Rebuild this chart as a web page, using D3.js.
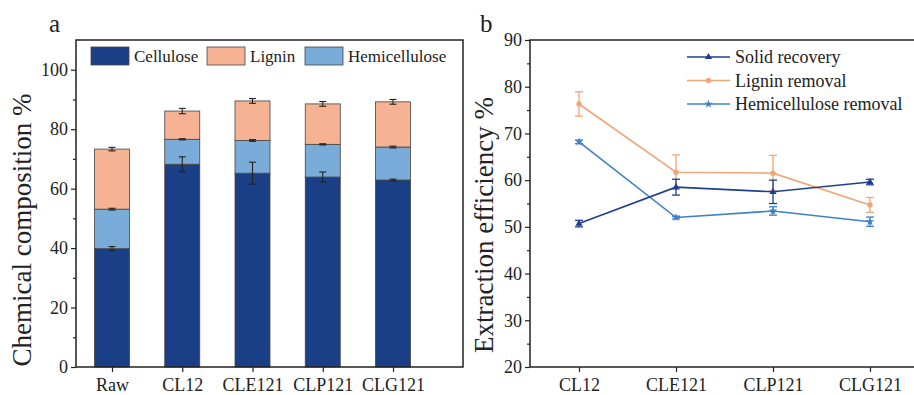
<!DOCTYPE html>
<html>
<head>
<meta charset="utf-8">
<script src="https://cdn.jsdelivr.net/npm/d3@7"></script>
<style>
  body { margin: 0; background: #fff; }
</style>
</head>
<body>
<div id="chart"></div>
<script>
// ---- panel a data: stacked composition (%) ----
const samplesA = ["Raw", "CL12", "CLE121", "CLP121", "CLG121"];
const cellulose = [39.8, 68.2, 65.2, 63.9, 62.9];
const hemicellulose = [13.3, 8.4, 11.0, 11.0, 11.1];
const lignin = [20.2, 9.5, 13.3, 13.6, 15.2];
const celluloseErr = [0.7, 2.5, 3.7, 1.7, 0.3];
const hemicelluloseErr = [0.3, 0.2, 0.3, 0.2, 0.3];
const ligninErr = [0.6, 0.9, 0.8, 0.8, 0.8];

// ---- panel b data: extraction efficiency (%) ----
const samplesB = ["CL12", "CLE121", "CLP121", "CLG121"];
const solidRecovery = [50.7, 58.5, 57.5, 59.6];
const solidRecoveryErr = [0.7, 1.7, 2.5, 0.6];
const ligninRemoval = [76.3, 61.7, 61.5, 54.7];
const ligninRemovalErr = [2.6, 3.7, 3.8, 1.6];
const hemiRemoval = [68.2, 52.0, 53.4, 51.1];
const hemiRemovalErr = [0.4, 0.3, 0.9, 1.0];

const W = 914, H = 395;
const FONT = "Liberation Serif, Times New Roman, serif";
const svg = d3.select("#chart").append("svg")
  .attr("width", W).attr("height", H)
  .attr("font-family", FONT);

const axisColor = "#222";

function styleAxis(g) {
  g.attr("font-family", FONT);
  g.select(".domain").remove();
  g.selectAll("line").attr("stroke", axisColor).attr("stroke-width", 1.2);
  g.selectAll("text").attr("font-size", 18).attr("fill", "#222").attr("font-family", FONT);
}

function label(x, y, size, txt) {
  return svg.append("text").attr("x", x).attr("y", y)
    .attr("font-size", size).attr("font-family", FONT).attr("fill", "#222").text(txt);
}

// ================= panel a =================
const A = { left: 76, right: 463, top: 40, bottom: 367 };
const xA = d3.scalePoint().domain(samplesA).range([112, 393]);
const yA = d3.scaleLinear().domain([0, 110]).range([A.bottom, A.top]);
const barW = 35;

const colors = { cellulose: "#1b3f86", lignin: "#f6b394", hemi: "#79acd8" };

// stack order bottom-up: cellulose, hemicellulose, lignin
const layers = [
  { name: "cellulose", vals: cellulose, err: celluloseErr, color: colors.cellulose },
  { name: "hemi", vals: hemicellulose, err: hemicelluloseErr, color: colors.hemi },
  { name: "lignin", vals: lignin, err: ligninErr, color: colors.lignin }
];

const gA = svg.append("g");
samplesA.forEach((s, i) => {
  let base = 0;
  layers.forEach(l => {
    const top = base + l.vals[i];
    gA.append("rect")
      .attr("x", xA(s) - barW / 2)
      .attr("y", yA(top))
      .attr("width", barW)
      .attr("height", yA(base) - yA(top))
      .attr("fill", l.color)
      .attr("stroke", "#444")
      .attr("stroke-width", 0.8);
    base = top;
  });
});
// error bars on top of each segment
samplesA.forEach((s, i) => {
  let base = 0;
  layers.forEach(l => {
    const top = base + l.vals[i];
    const e = l.err[i];
    const cx = xA(s);
    const eb = gA.append("g").attr("stroke", "#222").attr("stroke-width", 1.1);
    eb.append("line").attr("x1", cx).attr("x2", cx).attr("y1", yA(top - e)).attr("y2", yA(top + e));
    eb.append("line").attr("x1", cx - 3.5).attr("x2", cx + 3.5).attr("y1", yA(top - e)).attr("y2", yA(top - e));
    eb.append("line").attr("x1", cx - 3.5).attr("x2", cx + 3.5).attr("y1", yA(top + e)).attr("y2", yA(top + e));
    base = top;
  });
});

// frame
svg.append("rect")
  .attr("x", A.left).attr("y", A.top)
  .attr("width", A.right - A.left).attr("height", A.bottom - A.top)
  .attr("fill", "none").attr("stroke", axisColor).attr("stroke-width", 1.5);

// axes
svg.append("g").attr("transform", `translate(${A.left},0)`)
  .call(d3.axisLeft(yA).tickValues([0, 20, 40, 60, 80, 100]).tickSize(5).tickPadding(3).tickSizeOuter(0))
  .call(styleAxis);
svg.append("g").attr("transform", `translate(${A.left},0)`)
  .call(d3.axisLeft(yA).tickValues([10, 30, 50, 70, 90]).tickSize(3).tickFormat("").tickSizeOuter(0))
  .call(styleAxis);
svg.append("g").attr("transform", `translate(0,${A.bottom})`)
  .call(d3.axisBottom(xA).tickSize(5).tickPadding(6).tickSizeOuter(0))
  .call(styleAxis);

svg.append("text")
  .attr("transform", "translate(31,230) rotate(-90)")
  .attr("text-anchor", "middle").attr("font-size", 27).attr("font-family", FONT).attr("fill", "#222")
  .text("Chemical composition %");
label(49, 32, 25, "a");

// legend a
const legA = [
  { label: "Cellulose", color: colors.cellulose, x: 91 },
  { label: "Lignin", color: colors.lignin, x: 207 },
  { label: "Hemicellulose", color: colors.hemi, x: 305 }
];
legA.forEach(d => {
  svg.append("rect").attr("x", d.x).attr("y", 47).attr("width", 38).attr("height", 18)
    .attr("fill", d.color).attr("stroke", "#444").attr("stroke-width", 0.8);
  label(d.x + 43, 62, 17, d.label);
});

// ================= panel b =================
const B = { left: 530, right: 916, top: 40, bottom: 367 };
const xB = d3.scalePoint().domain(samplesB).range([579, 870]);
const yB = d3.scaleLinear().domain([20, 90]).range([B.bottom, B.top]);

svg.append("path")
  .attr("d", `M${B.right},${B.top}H${B.left}V${B.bottom}H${B.right}`)
  .attr("fill", "none").attr("stroke", axisColor).attr("stroke-width", 1.5);

svg.append("g").attr("transform", `translate(${B.left},0)`)
  .call(d3.axisLeft(yB).tickValues([20, 30, 40, 50, 60, 70, 80, 90]).tickSize(5).tickPadding(3).tickSizeOuter(0))
  .call(styleAxis);
svg.append("g").attr("transform", `translate(${B.left},0)`)
  .call(d3.axisLeft(yB).tickValues([25, 35, 45, 55, 65, 75, 85]).tickSize(3).tickFormat("").tickSizeOuter(0))
  .call(styleAxis);
svg.append("g").attr("transform", `translate(0,${B.bottom})`)
  .call(d3.axisBottom(xB).tickSize(5).tickPadding(6).tickSizeOuter(0))
  .call(styleAxis);

svg.append("text")
  .attr("transform", "translate(493,225) rotate(-90)")
  .attr("text-anchor", "middle").attr("font-size", 27).attr("font-family", FONT).attr("fill", "#222")
  .text("Extraction efficiency %");
label(480, 32, 25, "b");

const seriesB = [
  { label: "Solid recovery", vals: solidRecovery, err: solidRecoveryErr, color: "#1f3f8e", symbol: d3.symbolTriangle, size: 22 },
  { label: "Lignin removal", vals: ligninRemoval, err: ligninRemovalErr, color: "#f2a576", symbol: d3.symbolCircle, size: 22 },
  { label: "Hemicellulose removal", vals: hemiRemoval, err: hemiRemovalErr, color: "#3f7fc8", symbol: d3.symbolStar, size: 22 }
];

const line = d3.line().x(d => xB(d.s)).y(d => yB(d.v));

// draw in order: hemicellulose, lignin, solid on top
[2, 1, 0].forEach(k => {
  const sr = seriesB[k];
  const pts = samplesB.map((s, i) => ({ s, v: sr.vals[i], e: sr.err[i] }));
  const g = svg.append("g");
  g.append("path").datum(pts).attr("d", line)
    .attr("fill", "none").attr("stroke", sr.color).attr("stroke-width", 1.6);
  pts.forEach(p => {
    const cx = xB(p.s);
    const eb = g.append("g").attr("stroke", sr.color).attr("stroke-width", 1.3);
    eb.append("line").attr("x1", cx).attr("x2", cx).attr("y1", yB(p.v - p.e)).attr("y2", yB(p.v + p.e));
    eb.append("line").attr("x1", cx - 4).attr("x2", cx + 4).attr("y1", yB(p.v - p.e)).attr("y2", yB(p.v - p.e));
    eb.append("line").attr("x1", cx - 4).attr("x2", cx + 4).attr("y1", yB(p.v + p.e)).attr("y2", yB(p.v + p.e));
    g.append("path").attr("d", d3.symbol(sr.symbol, sr.size)())
      .attr("transform", `translate(${cx},${yB(p.v)})`).attr("fill", sr.color);
  });
});

// legend b
seriesB.forEach((sr, k) => {
  const ly = 57 + k * 23.5;
  svg.append("line").attr("x1", 687).attr("x2", 730).attr("y1", ly).attr("y2", ly)
    .attr("stroke", sr.color).attr("stroke-width", 1.6);
  svg.append("path").attr("d", d3.symbol(sr.symbol, sr.size)())
    .attr("transform", `translate(708.5,${ly})`).attr("fill", sr.color);
  label(735, ly + 6, 18, sr.label);
});
</script>
</body>
</html>
